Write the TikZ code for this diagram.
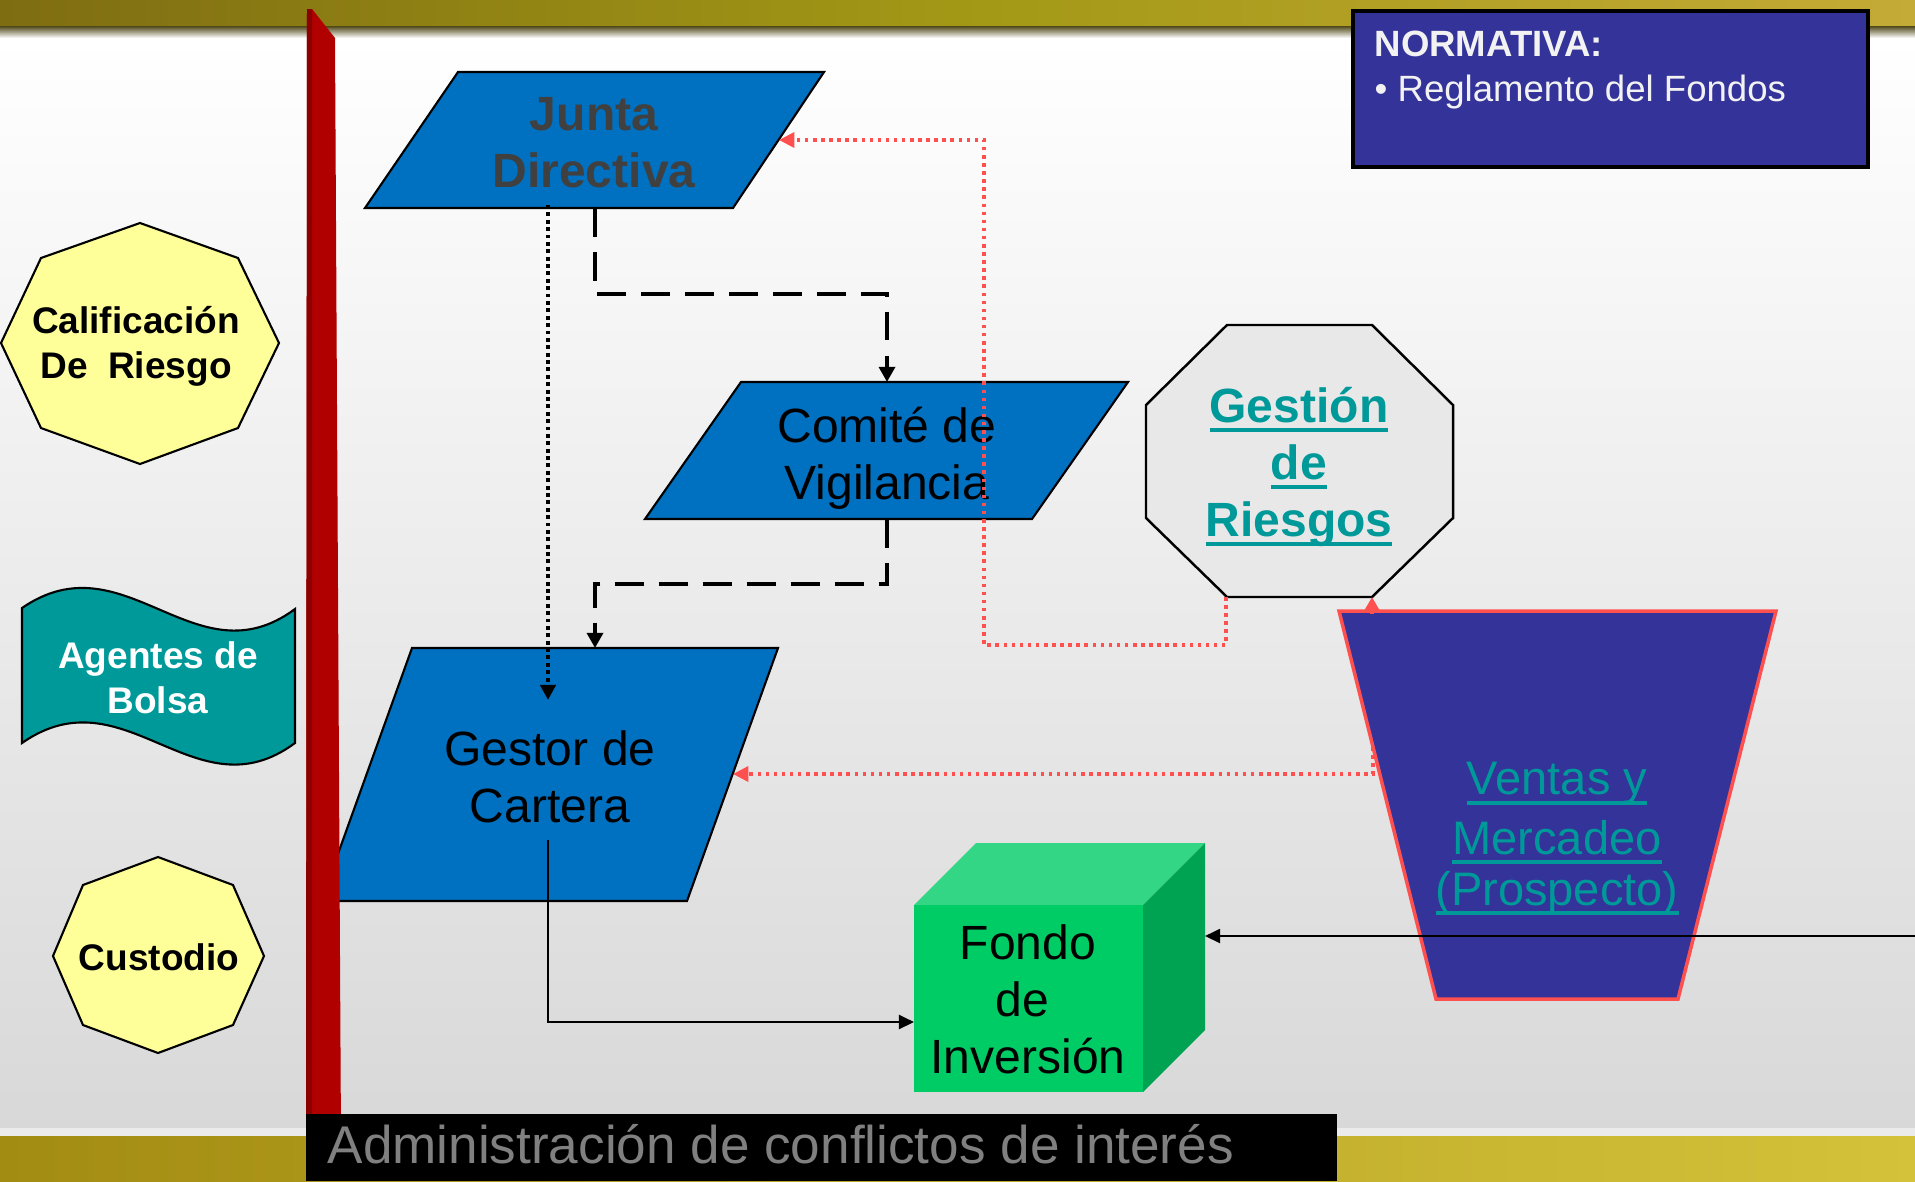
\documentclass[tikz,border=0pt]{standalone}
\usepackage{fontspec}
\setmainfont{Liberation Sans}
\usetikzlibrary{arrows.meta}
\definecolor{pblue}{HTML}{0070C0}
\definecolor{pnavy}{HTML}{333399}
\definecolor{pteal}{HTML}{009999}
\definecolor{pred}{HTML}{FF5050}
\definecolor{pbar}{HTML}{B00000}
\definecolor{pbardark}{HTML}{8C0000}
\definecolor{pyel}{HTML}{FFFF99}
\definecolor{pgray}{HTML}{E8E8E8}
\definecolor{pcfront}{HTML}{00CC66}
\definecolor{pctop}{HTML}{33D685}
\definecolor{pcside}{HTML}{00A352}
\definecolor{ptxtgray}{HTML}{404040}
\definecolor{padmin}{HTML}{808080}
\definecolor{pnorm}{HTML}{F2F2F2}
\definecolor{goldA}{HTML}{7F6D12}
\definecolor{goldB}{HTML}{A39816}
\definecolor{goldC}{HTML}{C4AA36}
\definecolor{goldD}{HTML}{A38C12}
\definecolor{goldE}{HTML}{D4C23A}
\definecolor{shadowc}{HTML}{504818}
\definecolor{bgbottom}{HTML}{D8D8D8}
\newcommand{\myul}[1]{\setbox0=\hbox{#1}\rlap{\vrule width\wd0 height -1.6pt depth 2.9pt}\box0}
\begin{document}
\begin{tikzpicture}[x=0.01cm,y=-0.01cm,
  txt/.style={inner sep=0pt, align=center, anchor=base},
  fbig/.style={font={\fontsize{13.66pt}{16.2pt}\selectfont}},
  fbigb/.style={font={\fontsize{13.66pt}{16.2pt}\selectfont\bfseries}},
  fven/.style={font={\fontsize{13.37pt}{16.8pt}\selectfont}},
  fsmb/.style={font={\fontsize{10.53pt}{12.8pt}\selectfont\bfseries}},
  shapeline/.style={draw=black, line width=0.6pt},
  dashk/.style={line width=1.1pt, dash pattern=on 8.2pt off 4.3pt, -{Triangle[length=4.3pt,width=4.5pt]}},
  dotk/.style={line width=1.1pt, dash pattern=on 1.1pt off 1pt, -{Triangle[length=4.3pt,width=4.3pt]}},
  dotr/.style={draw=pred, line width=1pt, dash pattern=on 1pt off 1.3pt, -{Triangle[length=4.4pt,width=4.3pt,fill=pred]}},
  solk/.style={line width=0.6pt, -{Triangle[length=4.3pt,width=4pt]}},
  redtip/.style={draw=pred, line width=1pt, -{Triangle[length=4pt,width=4.3pt,fill=pred]}}
]
\useasboundingbox (0,0) rectangle (1915,1181);
% background
\shade[top color=white, bottom color=bgbottom] (0,36) rectangle (1915,1134);
\shade[left color=goldA, right color=goldC, middle color=goldB] (0,0) rectangle (1915,26);
\shade[top color=shadowc, bottom color=white] (0,26) rectangle (1915,38);
\fill[white!92!black] (0,1128) rectangle (1915,1136);
\shade[left color=goldD, right color=goldE] (0,1136) rectangle (1915,1181);

% left shapes
\path[shapeline, fill=pyel] (140,223) -- (238,258) -- (279,343) -- (238,428) -- (140,464) -- (41,428) -- (1,343) -- (41,258) -- cycle;
\node[txt, fsmb] (crText) at (136,378) {Calificación\\De\ \ Riesgo};
\path[shapeline, fill=pteal] (22,608) .. controls (125,537) and (195,683) .. (295,609) -- (295,743) .. controls (195,817) and (125,671) .. (22,743) -- cycle;
\node[txt, fsmb, text=white] (abText) at (158,713) {Agentes de\\Bolsa};
\path[shapeline, fill=pyel] (158,857) -- (233,885) -- (264,956) -- (233,1025) -- (158,1053) -- (83,1025) -- (53,956) -- (83,885) -- cycle;
\node[txt, fsmb] (cuText) at (159,970) {Custodio};

% NORMATIVA
\path[draw=black, line width=1.1pt, fill=pnavy] (1353,11) rectangle (1868,167);
\node[inner sep=0pt, anchor=base west, align=left, font={\fontsize{10.4pt}{12.6pt}\selectfont}, text=pnorm] (nmText) at (1374,101) {\textbf{NORMATIVA:}\\• Reglamento del Fondos};

% Junta Directiva
\path[shapeline, fill=pblue] (458,72) -- (824,72) -- (733,208) -- (365,208) -- cycle;
\node[txt, fbigb, text=ptxtgray] (jdText) at (594,187) {Junta\\Directiva};
% Comite
\path[shapeline, fill=pblue] (741,382) -- (1128,382) -- (1032,519) -- (645,519) -- cycle;
\node[txt, fbig] (cvText) at (887,499) {Comité de\\Vigilancia};
% Gestor
\path[shapeline, fill=pblue] (412,648) -- (778,648) -- (687,901) -- (321,901) -- cycle;
\node[txt, fbig] (gcText) at (550,822) {Gestor de\\Cartera};
% Gestion de Riesgos
\path[shapeline, line width=0.7pt, fill=pgray] (1227,325) -- (1372,325) -- (1453,405) -- (1453,518) -- (1372,597) -- (1227,597) -- (1146,518) -- (1146,405) -- cycle;
\node[txt, fbigb, text=pteal] (grText) at (1299,536) {\myul{Gestión}\\\myul{de}\\\myul{Riesgos}};
% Ventas
\path[draw=pred, line width=1pt, fill=pnavy] (1339,611) -- (1776,611) -- (1678,999) -- (1436,999) -- cycle;
\node[txt, fven, text=pteal] (vmText) at (1557,905) {\myul{Ventas y}\\\myul{Mercadeo}\\[-2.3pt]\myul{(Prospecto)}};
% Fondo cube
\fill[pctop] (914,905) -- (976,843) -- (1205,843) -- (1143,905) -- cycle;
\fill[pcside] (1143,905) -- (1205,843) -- (1205,1030) -- (1143,1092) -- cycle;
\fill[pcfront] (914,905) rectangle (1143,1092);
\node[txt, fbig] (fiText) at (1028,1073) {Fondo\\de\kern3.4pt\\Inversión};

% connector coordinates
\coordinate (jdA) at (595,208);
\coordinate (jdB) at (548,205);
\coordinate (jdR) at (779,140);
\coordinate (cvT) at (887,382);
\coordinate (cvB) at (887,519);
\coordinate (gcT) at (595,648);
\coordinate (gcMid) at (548,700);
\coordinate (gcR) at (733,774);
\coordinate (gcIn) at (548,840);
\coordinate (fiL) at (914,1022);
\coordinate (fiR) at (1205,936);
\coordinate (edgeR) at (1915,936);
\coordinate (grBL) at (1226,597);
\coordinate (grBR) at (1372,597);
\coordinate (bendA) at (984,645);
\coordinate (vmTop) at (1372,614);
\coordinate (vmL) at (1373,747);

% connectors
\draw[dashk] (jdA) -- ++(0,86) -| (cvT);
\draw[dashk] (cvB) -- ++(0,65) -| (gcT);
\draw[dotk] (jdB) -- (gcMid);
\draw[solk] (gcIn) |- (fiL);
\draw[solk] (edgeR) -- (fiR);
\draw[dotr] (grBL) |- (bendA) |- (jdR);
\draw[dotr] (vmL) |- (gcR);
\draw[redtip] (vmTop) -- (grBR);

% red bar
\fill[pbar] (307,9) -- (312,9) -- (335,38) -- (341,1140) -- (306,1140) -- cycle;
\fill[pbardark] (307,9) -- (312,9) -- (312,1140) -- (306,1140) -- cycle;
% bottom title bar
\fill[black] (306,1114) rectangle (1337,1181);
\node[inner sep=0pt, anchor=base west, font={\fontsize{15.1pt}{18pt}\selectfont}, text=padmin] (adText) at (327,1163) {Administración de conflictos de interés};
\end{tikzpicture}
\end{document}
